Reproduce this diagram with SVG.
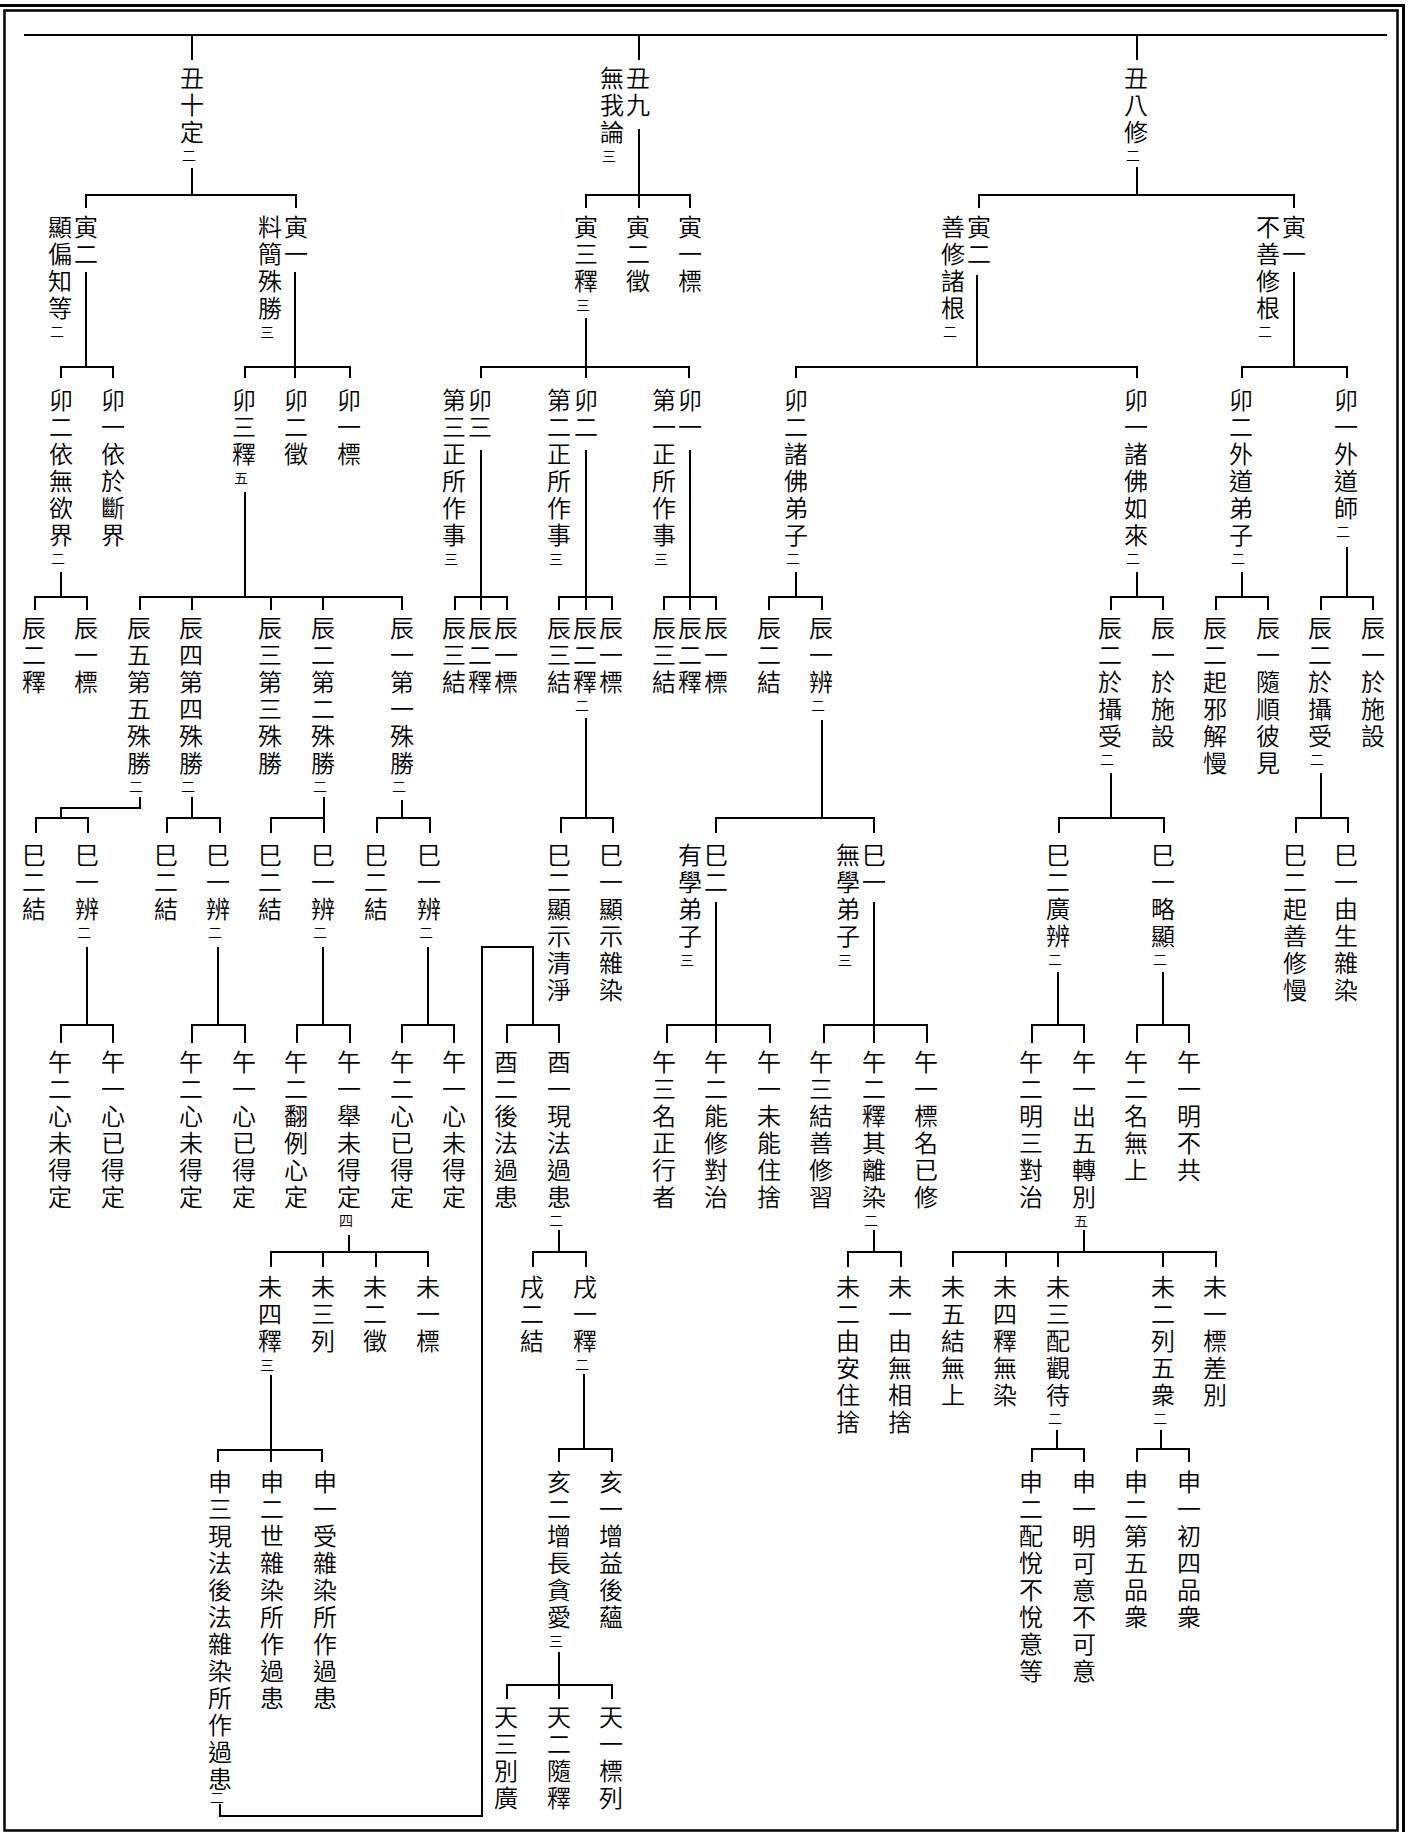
<svg xmlns="http://www.w3.org/2000/svg" width="1415" height="1832" viewBox="0 0 1415 1832">
<style>
.v{font-family:"Noto Sans CJK TC","Noto Sans CJK JP",sans-serif;font-size:24px;font-weight:350;writing-mode:vertical-rl;letter-spacing:3px;fill:#000}
.s{font-family:"Noto Sans CJK TC","Noto Sans CJK JP",sans-serif;font-size:14px;font-weight:350;text-anchor:middle;fill:#000}
#connectors path{fill:none;stroke:#000;stroke-width:2}
#frame path,#frame rect{fill:none;stroke:#000}
</style>
<rect width="1415" height="1832" fill="#fff"/>
<g id="frame">
<path d="M0,5.5H1403.5V1832" stroke-width="3"/>
<rect x="4.5" y="10.5" width="1393" height="1820" stroke-width="2.5"/>
</g>
<g id="connectors">
<path d="M24,35H1387"/>
<path d="M192,35V60M639,35V60M1137,35V60"/>
<path d="M192,168V195M86,208V195H296V208"/>
<path d="M639,129V208M586,208V195H690V208"/>
<path d="M1137,167V195M979,208V195H1294V208"/>
<path d="M86,272V367M61,378V367H113V378"/>
<path d="M295,272V378M245,378V367H350V378"/>
<path d="M586,318V378M481,378V367H689V378"/>
<path d="M977,275V367M796,378V367H1137V378"/>
<path d="M1294,272V367M1242,378V367H1347V378"/>
<path d="M61,572V597M35,610V597H87V610"/>
<path d="M245,492V597M140,610V597H402V610M192,597V610M271,597V610M323,597V610"/>
<path d="M481,450V610M455,610V597H507V610"/>
<path d="M586,450V610M559,610V597H612V610"/>
<path d="M690,450V610M664,610V597H716V610"/>
<path d="M796,572V597M769,610V597H822V610"/>
<path d="M1137,572V597M1111,610V597H1163V610"/>
<path d="M1242,572V597M1216,610V597H1268V610"/>
<path d="M1347,547V597M1321,610V597H1373V610"/>
<path d="M140,797V808H61V818M36,833V818H88V833"/>
<path d="M192,797V818M167,833V818H220V833"/>
<path d="M324,797V833M271,833V818H324"/>
<path d="M402,800V818M377,833V818H430V833"/>
<path d="M586,718V818M561,833V818H613V833"/>
<path d="M822,720V818M716,833V818H874V833"/>
<path d="M1111,773V818M1059,833V818H1164V833"/>
<path d="M1321,773V818M1296,833V818H1348V833"/>
<path d="M87,947V1025M61,1043V1025H113V1043"/>
<path d="M218,947V1025M192,1043V1025H245V1043"/>
<path d="M323,947V1025M297,1043V1025H350V1043"/>
<path d="M428,947V1025M402,1043V1025H454V1043"/>
<path d="M220,1804V1816H482V947H533V1025M507,1043V1025H559V1043"/>
<path d="M716,902V1043M667,1043V1025H770V1043"/>
<path d="M874,902V1043M824,1043V1025H927V1043"/>
<path d="M1058,972V1025M1032,1043V1025H1084V1043"/>
<path d="M1163,972V1025M1137,1043V1025H1189V1043"/>
<path d="M349,1235V1252M271,1267V1252H428V1267M323,1252V1267M376,1252V1267"/>
<path d="M559,1230V1252M533,1267V1252H586V1267"/>
<path d="M874,1230V1252M848,1267V1252H901V1267"/>
<path d="M1084,1230V1252M953,1267V1252H1216V1267M1006,1252V1267M1058,1252V1267M1163,1252V1267"/>
<path d="M271,1375V1462M218,1462V1450H322V1462"/>
<path d="M584,1374V1449M559,1462V1449H612V1462"/>
<path d="M1057,1430V1449M1032,1462V1449H1084V1462"/>
<path d="M1161,1430V1449M1137,1462V1449H1189V1462"/>
<path d="M559,1652V1699M507,1699V1685H612V1699"/>
</g>
<g id="n1"><text class="v" x="192" y="66">丑十定</text><text class="s" x="189" y="161">二</text></g>
<g id="n2"><text class="v" x="638" y="66">丑九</text><text class="v" x="612" y="66">無我論</text><text class="s" x="609" y="161">三</text></g>
<g id="n3"><text class="v" x="1136" y="66">丑八修</text><text class="s" x="1133" y="161">二</text></g>
<g id="n4"><text class="v" x="86" y="215">寅二</text><text class="v" x="60" y="215">顯偏知等</text><text class="s" x="57" y="337">二</text></g>
<g id="n5"><text class="v" x="296" y="215">寅一</text><text class="v" x="270" y="215">料簡殊勝</text><text class="s" x="267" y="337">三</text></g>
<g id="n6"><text class="v" x="586" y="215">寅三釋</text><text class="s" x="583" y="310">三</text></g>
<g id="n7"><text class="v" x="638" y="215">寅二徵</text></g>
<g id="n8"><text class="v" x="690" y="215">寅一標</text></g>
<g id="n9"><text class="v" x="979" y="215">寅二</text><text class="v" x="953" y="215">善修諸根</text><text class="s" x="950" y="337">二</text></g>
<g id="n10"><text class="v" x="1294" y="215">寅一</text><text class="v" x="1268" y="215">不善修根</text><text class="s" x="1265" y="337">二</text></g>
<g id="n11"><text class="v" x="61" y="388">卯二依無欲界</text><text class="s" x="58" y="564">二</text></g>
<g id="n12"><text class="v" x="113" y="388">卯一依於斷界</text></g>
<g id="n13"><text class="v" x="244" y="388">卯三釋</text><text class="s" x="241" y="483">五</text></g>
<g id="n14"><text class="v" x="296" y="388">卯二徵</text></g>
<g id="n15"><text class="v" x="349" y="388">卯一標</text></g>
<g id="n16"><text class="v" x="480" y="388">卯三</text><text class="v" x="454" y="388">第三正所作事</text><text class="s" x="451" y="564">三</text></g>
<g id="n17"><text class="v" x="586" y="388">卯二</text><text class="v" x="559" y="388">第二正所作事</text><text class="s" x="556" y="564">三</text></g>
<g id="n18"><text class="v" x="690" y="388">卯一</text><text class="v" x="664" y="388">第一正所作事</text><text class="s" x="661" y="564">三</text></g>
<g id="n19"><text class="v" x="796" y="388">卯二諸佛弟子</text><text class="s" x="793" y="564">二</text></g>
<g id="n20"><text class="v" x="1136" y="388">卯一諸佛如來</text><text class="s" x="1133" y="564">二</text></g>
<g id="n21"><text class="v" x="1241" y="388">卯二外道弟子</text><text class="s" x="1238" y="564">二</text></g>
<g id="n22"><text class="v" x="1346" y="388">卯一外道師</text><text class="s" x="1343" y="537">二</text></g>
<g id="n23"><text class="v" x="34" y="616">辰二釋</text></g>
<g id="n24"><text class="v" x="86" y="616">辰一標</text></g>
<g id="n25"><text class="v" x="139" y="616">辰五第五殊勝</text><text class="s" x="136" y="792">二</text></g>
<g id="n26"><text class="v" x="191" y="616">辰四第四殊勝</text><text class="s" x="188" y="792">二</text></g>
<g id="n27"><text class="v" x="270" y="616">辰三第三殊勝</text></g>
<g id="n28"><text class="v" x="323" y="616">辰二第二殊勝</text><text class="s" x="320" y="792">二</text></g>
<g id="n29"><text class="v" x="402" y="616">辰一第一殊勝</text><text class="s" x="399" y="792">二</text></g>
<g id="n30"><text class="v" x="454" y="616">辰三結</text></g>
<g id="n31"><text class="v" x="480" y="616">辰二釋</text></g>
<g id="n32"><text class="v" x="506" y="616">辰一標</text></g>
<g id="n33"><text class="v" x="559" y="616">辰三結</text></g>
<g id="n34"><text class="v" x="585" y="616">辰二釋</text><text class="s" x="582" y="711">二</text></g>
<g id="n35"><text class="v" x="611" y="616">辰一標</text></g>
<g id="n36"><text class="v" x="664" y="616">辰三結</text></g>
<g id="n37"><text class="v" x="690" y="616">辰二釋</text></g>
<g id="n38"><text class="v" x="716" y="616">辰一標</text></g>
<g id="n39"><text class="v" x="769" y="616">辰二結</text></g>
<g id="n40"><text class="v" x="821" y="616">辰一辨</text><text class="s" x="818" y="711">二</text></g>
<g id="n41"><text class="v" x="1110" y="616">辰二於攝受</text><text class="s" x="1107" y="765">二</text></g>
<g id="n42"><text class="v" x="1163" y="616">辰一於施設</text></g>
<g id="n43"><text class="v" x="1215" y="616">辰二起邪解慢</text></g>
<g id="n44"><text class="v" x="1268" y="616">辰一隨順彼見</text></g>
<g id="n45"><text class="v" x="1320" y="616">辰二於攝受</text><text class="s" x="1317" y="765">二</text></g>
<g id="n46"><text class="v" x="1373" y="616">辰一於施設</text></g>
<g id="n47"><text class="v" x="34" y="843">巳二結</text></g>
<g id="n48"><text class="v" x="87" y="843">巳一辨</text><text class="s" x="84" y="938">二</text></g>
<g id="n49"><text class="v" x="166" y="843">巳二結</text></g>
<g id="n50"><text class="v" x="218" y="843">巳一辨</text><text class="s" x="215" y="938">二</text></g>
<g id="n51"><text class="v" x="270" y="843">巳二結</text></g>
<g id="n52"><text class="v" x="323" y="843">巳一辨</text><text class="s" x="320" y="938">二</text></g>
<g id="n53"><text class="v" x="376" y="843">巳二結</text></g>
<g id="n54"><text class="v" x="429" y="843">巳一辨</text><text class="s" x="426" y="938">二</text></g>
<g id="n55"><text class="v" x="559" y="843">巳二顯示清淨</text></g>
<g id="n56"><text class="v" x="611" y="843">巳一顯示雜染</text></g>
<g id="n57"><text class="v" x="716" y="843">巳二</text><text class="v" x="690" y="843">有學弟子</text><text class="s" x="687" y="965">三</text></g>
<g id="n58"><text class="v" x="874" y="843">巳一</text><text class="v" x="848" y="843">無學弟子</text><text class="s" x="845" y="965">三</text></g>
<g id="n59"><text class="v" x="1058" y="843">巳二廣辨</text><text class="s" x="1055" y="965">二</text></g>
<g id="n60"><text class="v" x="1163" y="843">巳一略顯</text><text class="s" x="1160" y="965">二</text></g>
<g id="n61"><text class="v" x="1295" y="843">巳二起善修慢</text></g>
<g id="n62"><text class="v" x="1346" y="843">巳一由生雜染</text></g>
<g id="n63"><text class="v" x="60" y="1050">午二心未得定</text></g>
<g id="n64"><text class="v" x="113" y="1050">午一心已得定</text></g>
<g id="n65"><text class="v" x="191" y="1050">午二心未得定</text></g>
<g id="n66"><text class="v" x="244" y="1050">午一心已得定</text></g>
<g id="n67"><text class="v" x="296" y="1050">午二翻例心定</text></g>
<g id="n68"><text class="v" x="349" y="1050">午一舉未得定</text><text class="s" x="346" y="1226">四</text></g>
<g id="n69"><text class="v" x="402" y="1050">午二心已得定</text></g>
<g id="n70"><text class="v" x="454" y="1050">午一心未得定</text></g>
<g id="n71"><text class="v" x="506" y="1050">酉二後法過患</text></g>
<g id="n72"><text class="v" x="559" y="1050">酉一現法過患</text><text class="s" x="556" y="1226">二</text></g>
<g id="n73"><text class="v" x="664" y="1050">午三名正行者</text></g>
<g id="n74"><text class="v" x="716" y="1050">午二能修對治</text></g>
<g id="n75"><text class="v" x="769" y="1050">午一未能住捨</text></g>
<g id="n76"><text class="v" x="821" y="1050">午三結善修習</text></g>
<g id="n77"><text class="v" x="874" y="1050">午二釋其離染</text><text class="s" x="871" y="1226">二</text></g>
<g id="n78"><text class="v" x="926" y="1050">午一標名已修</text></g>
<g id="n79"><text class="v" x="1031" y="1050">午二明三對治</text></g>
<g id="n80"><text class="v" x="1084" y="1050">午一出五轉別</text><text class="s" x="1081" y="1226">五</text></g>
<g id="n81"><text class="v" x="1136" y="1050">午二名無上</text></g>
<g id="n82"><text class="v" x="1189" y="1050">午一明不共</text></g>
<g id="n83"><text class="v" x="270" y="1275">未四釋</text><text class="s" x="267" y="1370">三</text></g>
<g id="n84"><text class="v" x="323" y="1275">未三列</text></g>
<g id="n85"><text class="v" x="375" y="1275">未二徵</text></g>
<g id="n86"><text class="v" x="428" y="1275">未一標</text></g>
<g id="n87"><text class="v" x="532" y="1275">戌二結</text></g>
<g id="n88"><text class="v" x="585" y="1275">戌一釋</text><text class="s" x="582" y="1370">二</text></g>
<g id="n89"><text class="v" x="848" y="1275">未二由安住捨</text></g>
<g id="n90"><text class="v" x="900" y="1275">未一由無相捨</text></g>
<g id="n91"><text class="v" x="953" y="1275">未五結無上</text></g>
<g id="n92"><text class="v" x="1005" y="1275">未四釋無染</text></g>
<g id="n93"><text class="v" x="1058" y="1275">未三配觀待</text><text class="s" x="1055" y="1424">二</text></g>
<g id="n94"><text class="v" x="1163" y="1275">未二列五衆</text><text class="s" x="1160" y="1424">二</text></g>
<g id="n95"><text class="v" x="1215" y="1275">未一標差別</text></g>
<g id="n96"><text class="v" x="220" y="1470">申三現法後法雜染所作過患</text><text class="s" x="217" y="1803">二</text></g>
<g id="n97"><text class="v" x="272" y="1470">申二世雜染所作過患</text></g>
<g id="n98"><text class="v" x="325" y="1470">申一受雜染所作過患</text></g>
<g id="n99"><text class="v" x="559" y="1470">亥二增長貪愛</text><text class="s" x="556" y="1646">三</text></g>
<g id="n100"><text class="v" x="611" y="1470">亥一增益後蘊</text></g>
<g id="n101"><text class="v" x="1031" y="1470">申二配悅不悅意等</text></g>
<g id="n102"><text class="v" x="1084" y="1470">申一明可意不可意</text></g>
<g id="n103"><text class="v" x="1136" y="1470">申二第五品衆</text></g>
<g id="n104"><text class="v" x="1189" y="1470">申一初四品衆</text></g>
<g id="n105"><text class="v" x="506" y="1705">天三別廣</text></g>
<g id="n106"><text class="v" x="559" y="1705">天二隨釋</text></g>
<g id="n107"><text class="v" x="611" y="1705">天一標列</text></g>
</svg>
